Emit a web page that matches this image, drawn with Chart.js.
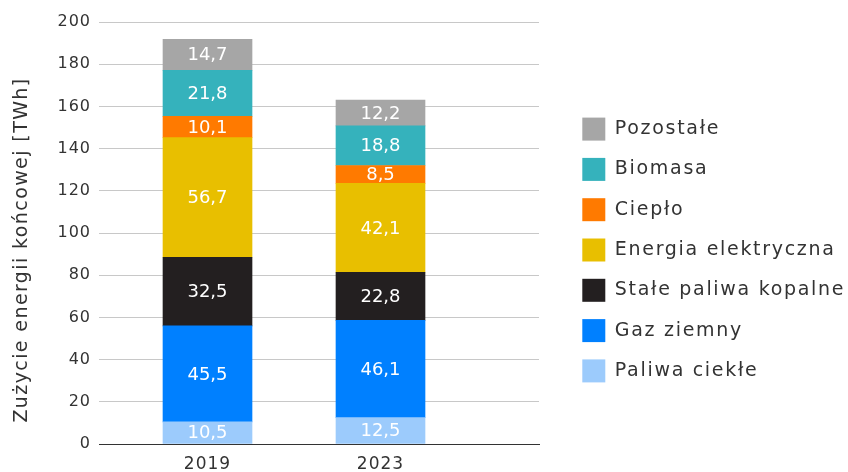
<!DOCTYPE html>
<html>
<head>
<meta charset="utf-8">
<script src="https://cdn.jsdelivr.net/npm/chart.js@4"></script>
<style>
html,body{margin:0;padding:0;background:#fff;}
#wrap{width:848px;height:472px;}
</style>
</head>
<body>
<div id="wrap"><canvas id="c" width="848" height="472"></canvas></div>
<script>
const years = ['2019', '2023'];
const seriesNames = ['Paliwa ciekłe', 'Gaz ziemny', 'Stałe paliwa kopalne', 'Energia elektryczna', 'Ciepło', 'Biomasa', 'Pozostałe'];
const paliwaCiekle = [10.5, 12.5];
const gazZiemny = [45.5, 46.1];
const stalePaliwa = [32.5, 22.8];
const energiaElektryczna = [56.7, 42.1];
const cieplo = [10.1, 8.5];
const biomasa = [21.8, 18.8];
const pozostale = [14.7, 12.2];
const yTicks = [0, 20, 40, 60, 80, 100, 120, 140, 160, 180, 200];
const yTitle = 'Zużycie energii końcowej [TWh]';

const seriesValues = [paliwaCiekle, gazZiemny, stalePaliwa, energiaElektryczna, cieplo, biomasa, pozostale];
const colors = ['#9ccbfc', '#0080ff', '#231f20', '#e8bf00', '#ff7a00', '#35b2bc', '#a6a6a6'];

const FONT = "'DejaVu Sans', sans-serif";

const datasets = seriesNames.map((name, s) => ({
  label: name,
  data: years.map((y, i) => ({x: i, y: seriesValues[s][i]})),
  backgroundColor: colors[s],
  borderWidth: 0,
  barThickness: 89
}));

const valueLabels = {
  id: 'valueLabels',
  afterDatasetsDraw(chart) {
    const ctx = chart.ctx;
    ctx.save();
    ctx.letterSpacing = '0px';
    ctx.fillStyle = '#ffffff';
    ctx.font = "18px " + FONT;
    ctx.textAlign = 'center';
    ctx.textBaseline = 'middle';
    chart.data.datasets.forEach((ds, di) => {
      const meta = chart.getDatasetMeta(di);
      meta.data.forEach((el, i) => {
        const v = ds.data[i].y;
        const txt = v.toFixed(1).replace('.', ',');
        ctx.fillText(txt, el.x, (el.y + el.base) / 2 + 1);
      });
    });
    ctx.restore();
  }
};

const yTitlePlugin = {
  id: 'yTitlePlugin',
  afterDraw(chart) {
    const ctx = chart.ctx;
    ctx.save();
    ctx.letterSpacing = '1.4px';
    ctx.translate(22, 250);
    ctx.rotate(-Math.PI / 2);
    ctx.fillStyle = '#333333';
    ctx.font = "19px " + FONT;
    ctx.textAlign = 'center';
    ctx.textBaseline = 'middle';
    ctx.fillText(yTitle, 0, 0);
    ctx.restore();
  }
};

const layoutTweaks = {
  id: 'layoutTweaks',
  beforeLayout(chart) {
    const lg = chart.legend;
    if (lg && !lg._patched) {
      lg._patched = true;
      const fit = lg.fit;
      lg.fit = function () { fit.call(this); this.width = 283; };
      const draw = lg.draw;
      lg.draw = function () {
        const ctx = this.ctx;
        ctx.save();
        ctx.letterSpacing = '1.7px';
        ctx.translate(0, 3);
        draw.call(this);
        ctx.restore();
      };
    }
  },
  beforeDraw(chart) {
    chart.ctx.letterSpacing = '1px';
  }
};

new Chart(document.getElementById('c'), {
  type: 'bar',
  data: { datasets },
  plugins: [valueLabels, yTitlePlugin, layoutTweaks],
  options: {
    responsive: false,
    animation: false,
    layout: { padding: { top: 22, left: 0, right: 0, bottom: 0 } },
    plugins: {
      tooltip: { enabled: false },
      legend: {
        position: 'right',
        reverse: true,
        labels: {
          boxWidth: 23,
          boxHeight: 23,
          padding: 17.3,
          color: '#333333',
          font: { family: FONT, size: 19 }
        }
      }
    },
    scales: {
      x: {
        type: 'linear',
        stacked: true,
        offset: false,
        bounds: 'data',
        min: -0.6272,
        max: 1.9162,
        grid: { display: false, drawTicks: false },
        border: { display: true, color: '#333333', width: 1 },
        afterBuildTicks(scale) { scale.ticks = years.map((y, i) => ({ value: i })); },
        afterFit(scale) { scale.height = 28; },
        ticks: {
          padding: 10,
          color: '#333333',
          font: { family: FONT, size: 17 },
          callback: (v) => years[v]
        }
      },
      y: {
        stacked: true,
        min: 0,
        max: 200,
        afterBuildTicks(scale) { scale.ticks = yTicks.map(v => ({ value: v })); },
        afterFit(scale) { scale.width = 99; },
        grid: { color: '#c8c8c8', lineWidth: 1, drawTicks: false },
        border: { display: false },
        ticks: {
          padding: 8,
          color: '#333333',
          font: { family: FONT, size: 16 }
        }
      },
      y2: {
        position: 'right',
        display: true,
        grid: { display: false, drawTicks: false },
        border: { display: false },
        ticks: { display: false },
        afterFit(scale) { scale.width = 26; }
      }
    }
  }
});
</script>
</body>
</html>
